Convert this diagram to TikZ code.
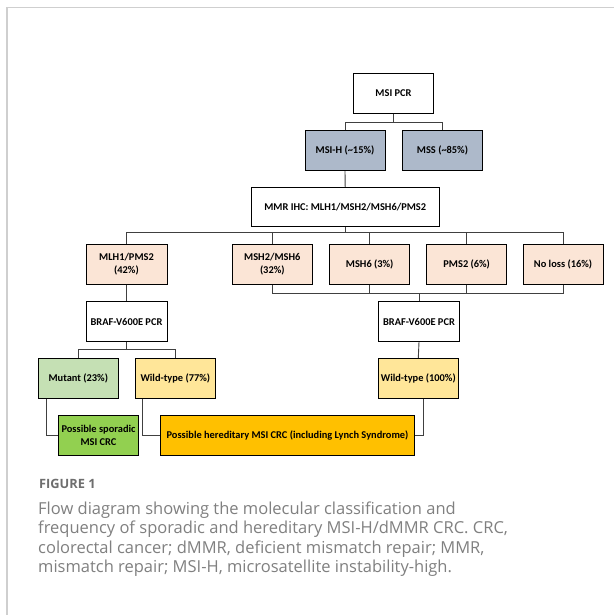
\documentclass[tikz,border=0pt]{standalone}
\usepackage{fontspec}
\setmainfont{Carlito}
\newfontfamily\capfont{Open Sans}
\usetikzlibrary{calc}
\definecolor{bluegray}{HTML}{ADB9CA}
\definecolor{peach}{HTML}{FBE5D6}
\definecolor{lgreen}{HTML}{C5E0B4}
\definecolor{lgold}{HTML}{FFE699}
\definecolor{dgreen}{HTML}{92D050}
\definecolor{dgold}{HTML}{FFC000}
\definecolor{conn}{HTML}{404040}
\definecolor{framec}{HTML}{CFCFCF}
\definecolor{capc}{HTML}{808080}
\definecolor{figc}{HTML}{6E6E6E}
\tikzset{
  box/.style={draw=black, line width=0.8pt, minimum height=40pt, minimum width=80pt,
    inner sep=1pt, align=center, font=\fontsize{10.4}{12.5}\selectfont\bfseries},
  link/.style={draw=conn, line width=0.9pt},
}
\begin{document}
\begin{tikzpicture}[x=1pt,y=-1pt]
\useasboundingbox (0,0) rectangle (614,615);
\fill[white] (0,0) rectangle (614,615);
\draw[framec, line width=1.3pt] (7,615) -- (7,7.3) -- (614,7.3);

% nodes
\node[box] (msipcr) at (393.5,93.3) {MSI PCR};
\node[box, fill=bluegray] (msih) at (345,150.7) {MSI-H (\textasciitilde15\%)};
\node[box, fill=bluegray] (mss) at (442.5,150.7) {MSS (\textasciitilde85\%)};
\node[box, minimum width=188pt, minimum height=39.4pt] (mmr) at (345.2,207) {MMR IHC: MLH1/MSH2/MSH6/PMS2};
\node[box, fill=peach, minimum width=81pt] (mlh1) at (126.5,264.3) {MLH1/PMS2\\(42\%)};
\node[box, fill=peach] (msh2) at (272.3,264.3) {MSH2/MSH6\\(32\%)};
\node[box, fill=peach] (msh6) at (369.7,264.3) {MSH6 (3\%)};
\node[box, fill=peach] (pms2) at (466.7,264.3) {PMS2 (6\%)};
\node[box, fill=peach] (noloss) at (563,264.3) {No loss (16\%)};
\node[box, minimum width=81pt] (brafl) at (126.5,321.5) {BRAF-V600E PCR};
\node[box, minimum width=81pt] (brafr) at (419,321.5) {BRAF-V600E PCR};
\node[box, fill=lgreen] (mutant) at (78.3,378.3) {Mutant (23\%)};
\node[box, fill=lgold] (wt77) at (175.3,378.3) {Wild-type (77\%)};
\node[box, fill=lgold, minimum width=80.5pt] (wt100) at (418.3,378.3) {Wild-type (100\%)};
\node[box, fill=dgreen, minimum width=79.7pt] (spor) at (98.5,435.3) {Possible sporadic\\MSI CRC};
\node[box, fill=dgold, minimum width=253.7pt] (hered) at (287.5,435.3) {Possible hereditary MSI CRC (including Lynch Syndrome)};

% connectors
\coordinate (b1) at (0,122.7);
\coordinate (b2) at (0,232.7);
\coordinate (b3) at (0,293.3);
\coordinate (b4) at (0,349.3);

\draw[link] (msipcr.south) -- (msipcr.south |- b1);
\draw[link] (msih.north) -- (msih.north |- b1) -- (mss.north |- b1) -- (mss.north);
\draw[link] (msih.south) -- (mmr.north);

\draw[link] (mmr.south) -- (mmr.south |- b2);
\draw[link] (mlh1.north) -- (mlh1.north |- b2) -- (noloss.north |- b2) -- (noloss.north);
\draw[link] (msh2.north) -- (msh2.north |- b2);
\draw[link] (msh6.north) -- (msh6.north |- b2);
\draw[link] (pms2.north) -- (pms2.north |- b2);

\draw[link] (msh2.south) -- (msh2.south |- b3) -- (noloss.south |- b3) -- (noloss.south);
\draw[link] (msh6.south) -- (msh6.south |- b3);
\draw[link] (pms2.south) -- (pms2.south |- b3);
\draw[link] (brafr.north |- b3) -- (brafr.north);

\draw[link] (mlh1.south) -- (brafl.north);
\draw[link] (brafl.south) -- (brafl.south |- b4);
\draw[link] (mutant.north) -- (mutant.north |- b4) -- (wt77.north |- b4) -- (wt77.north);
\draw[link] (brafr.south) -- (wt100.north);

\draw[link] ($(mutant.south west)+(8.4,0)$) |- (spor.west);
\draw[link] ($(wt77.south west)+(8,0)$) |- (hered.west);
\draw[link] ($(wt100.south)+(4.7,0)$) |- (hered.east);

% caption
\node[anchor=base west, inner sep=0pt, text=figc, font=\capfont\bfseries\fontsize{12.8}{15}\selectfont] (figlabel) at (39,488.3) {FIGURE 1};
\node[anchor=north west, inner sep=0pt, text=capc, align=left,
  font=\capfont\fontsize{16.5}{19.5}\selectfont] (caption) at (38,501.5)
  {Flow diagram showing the molecular classification and\\
   frequency of sporadic and hereditary MSI-H/dMMR CRC. CRC,\\
   colorectal cancer; dMMR, deficient mismatch repair; MMR,\\
   mismatch repair; MSI-H, microsatellite instability-high.};
\end{tikzpicture}
\end{document}
